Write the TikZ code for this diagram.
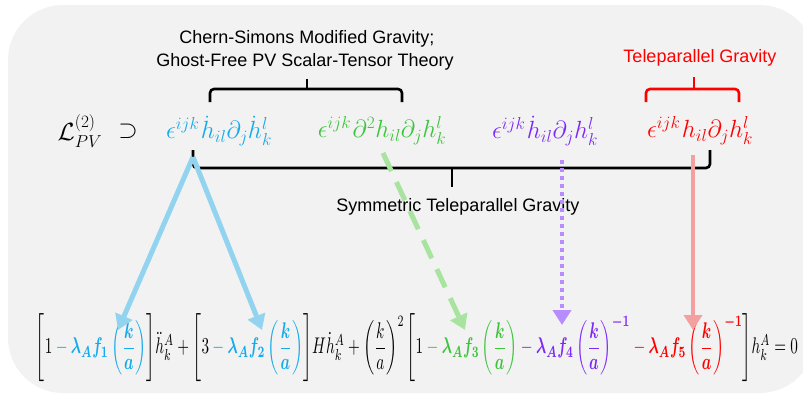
\documentclass[tikz,border=0pt]{standalone}
\usepackage{amsmath,bm}
\usepackage{fontspec}
\setmainfont{Liberation Sans}
\usetikzlibrary{arrows.meta}
\definecolor{bgc}{RGB}{242,242,242}
\definecolor{cblue}{RGB}{20,170,235}
\definecolor{cgreen}{RGB}{60,196,60}
\definecolor{cpurple}{RGB}{125,40,250}
\definecolor{cred}{RGB}{255,0,0}
\definecolor{ablue}{RGB}{146,212,240}
\definecolor{agreen}{RGB}{168,228,160}
\definecolor{apurple}{RGB}{182,140,255}
\definecolor{ared}{RGB}{244,160,160}
\newcommand{\cminus}[1]{\mathbin{\textcolor{#1}{-}}}
\newcommand{\ka}{\left(\dfrac{\boldsymbol k}{\boldsymbol a}\right)}
\tikzset{
  lbl/.style={inner sep=0pt, font=\fontsize{18}{22}\selectfont},
  term/.style={inner sep=0pt, font=\fontsize{26}{30}\selectfont},
  bracestyle/.style={line width=2.6pt, rounded corners=4pt},
  arr/.style={line width=5pt, -{Triangle[width=18pt,length=15pt]}},
}
\begin{document}
\begin{tikzpicture}[x=1pt,y=-1pt]
\useasboundingbox (0,0) rectangle (803,397);
\clip (0,0) rectangle (803,397);
\fill[bgc, rounded corners=55pt] (8,5) rectangle (815,393);

% labels
\node[lbl] (cs) at (307,39) {Chern-Simons Modified Gravity;};
\node[lbl] (gf) at (305,62) {Ghost-Free PV Scalar-Tensor Theory};
\node[lbl, text=cred] (tg) at (700,58) {Teleparallel Gravity};
\node[lbl] (stg) at (458,207) {Symmetric Teleparallel Gravity};

% formula row
\node[term] (L) at (80,131) {$\mathcal{L}^{(2)}_{PV}$};
\node[term] (sup) at (128,131) {$\supset$};
\node[term, text=cblue] (tb) at (219,131) {$\epsilon^{ijk}\mkern1mu\dot h_{il}\partial_j\dot h^l_k$};
\node[term, text=cgreen] (tgr) at (382,131) {$\epsilon^{ijk}\mkern1mu\partial^2 h_{il}\partial_j h^l_k$};
\node[term, text=cpurple] (tp) at (545,131) {$\epsilon^{ijk}\mkern1mu\dot h_{il}\partial_j h^l_k$};
\node[term, text=cred] (tr) at (700,131) {$\epsilon^{ijk}\mkern1mu h_{il}\partial_j h^l_k$};

% braces
\draw[bracestyle] (210,102) -- (210,89) -- (402,89) -- (402,102);
\draw[line width=2.6pt] (307,89) -- (307,79);
\draw[bracestyle, cred] (646,102) -- (646,89) -- (739,89) -- (739,102);
\draw[line width=2.6pt, cred] (694,89) -- (694,77);
\draw[bracestyle] (193,150) -- (193,168) -- (710,168) -- (710,150);
\draw[line width=2.6pt] (452,168) -- (452,187);

% bottom equation
\node[inner sep=0pt] (eq) at (417,348) {\resizebox*{762pt}{68pt}{$\Biggl[1\cminus{cblue}\textcolor{cblue}{\boldsymbol{\lambda_A f_1}\ka}\Biggr]\ddot h_k^A+\Biggl[3\cminus{cblue}\textcolor{cblue}{\boldsymbol{\lambda_A f_2}\ka}\Biggr]H\dot h_k^A+\left(\dfrac{k}{a}\right)^{2}\Biggl[1\cminus{cgreen}\textcolor{cgreen}{\boldsymbol{\lambda_A f_3}\ka}\cminus{cpurple}\textcolor{cpurple}{\boldsymbol{\lambda_A f_4}\ka^{\boldsymbol{-1}}}\cminus{cred}\textcolor{cred}{\boldsymbol{\lambda_A f_5}\ka^{\boldsymbol{-1}}}\Biggr]h_k^A=0$}};

% arrow endpoints
\coordinate (bs) at (193,157);
\coordinate (b1) at (118,330);
\coordinate (b2) at (262,330);
\coordinate (gs) at (383,153);
\coordinate (ge) at (465,330);
\coordinate (ps) at (562,160);
\coordinate (pe) at (562,325);
\coordinate (rs) at (693,155);
\coordinate (re) at (693,330);

\draw[arr, ablue] (bs) -- (b1);
\draw[arr, ablue] (bs) -- (b2);
\draw[arr, agreen, dash pattern=on 20pt off 12pt] (gs) -- (ge);
\draw[arr, apurple, line width=4pt, dash pattern=on 4pt off 4pt] (ps) -- (pe);
\draw[arr, ared, line width=4pt] (rs) -- (re);
\end{tikzpicture}
\end{document}
